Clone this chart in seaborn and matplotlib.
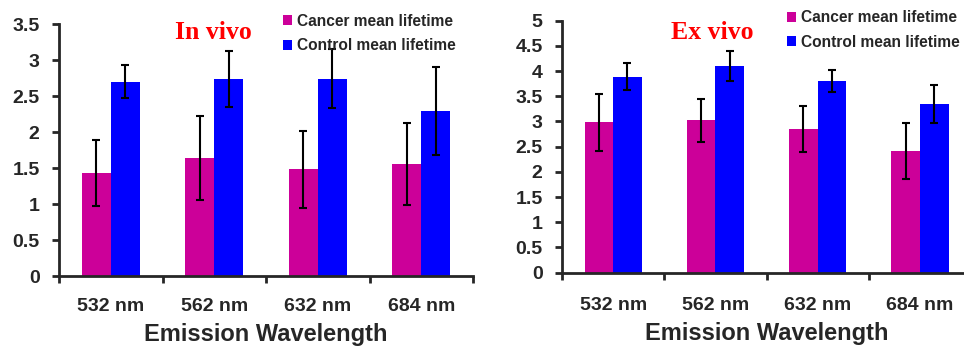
import pandas as pd
import matplotlib
matplotlib.use("Agg")
import matplotlib.pyplot as plt
import seaborn as sns

# values
wavelengths = ["532 nm", "562 nm", "632 nm", "684 nm"]
groups = ["Cancer mean lifetime", "Control mean lifetime"]

invivo_cancer = [1.43, 1.64, 1.48, 1.55]
invivo_cancer_err = [0.46, 0.58, 0.54, 0.57]
invivo_control = [2.70, 2.74, 2.74, 2.29]
invivo_control_err = [0.23, 0.39, 0.41, 0.61]

exvivo_cancer = [2.98, 3.02, 2.85, 2.41]
exvivo_cancer_err = [0.56, 0.43, 0.45, 0.55]
exvivo_control = [3.89, 4.10, 3.80, 3.34]
exvivo_control_err = [0.27, 0.30, 0.22, 0.38]

colors = ["#CC0099", "#0000FF"]

sns.set_style("white")
plt.rcParams["font.family"] = ["Liberation Sans", "DejaVu Sans"]


def make_df(cancer, control):
    rows = []
    for w, v in zip(wavelengths, cancer):
        rows.append({"Wavelength": w, "Group": groups[0], "Lifetime": v})
    for w, v in zip(wavelengths, control):
        rows.append({"Wavelength": w, "Group": groups[1], "Lifetime": v})
    return pd.DataFrame(rows)


def draw_panel(ax, cancer, cancer_err, control, control_err, ymax, title, title_x, title_y,
               leg_x, tick_pad, label_pad):
    df = make_df(cancer, control)
    sns.barplot(data=df, x="Wavelength", y="Lifetime", hue="Group",
                palette=colors, width=0.56, errorbar=None, ax=ax,
                linewidth=0, saturation=1)
    # error bars at the bar centres seaborn placed
    errs = cancer_err + control_err
    vals = cancer + control
    bars = [p for p in ax.patches if p.get_height() > 0][:len(vals)]
    xs = [p.get_x() + p.get_width() / 2 for p in bars]
    ax.errorbar(xs, vals, yerr=errs, fmt="none", ecolor="black",
                elinewidth=1.5, capsize=3, capthick=1.5)

    ax.set_xlim(-0.5, 3.5)
    ax.set_ylim(0, ymax)
    ax.yaxis.set_major_locator(plt.MultipleLocator(0.5))
    ax.yaxis.set_major_formatter(plt.FormatStrFormatter("%g"))
    ax.set_xticks([-0.5, 0.5, 1.5, 2.5, 3.5], minor=True)
    ax.tick_params(axis="x", which="major", length=0, pad=tick_pad, labelsize=14)
    ax.tick_params(axis="x", which="minor", length=5, width=2, direction="out", bottom=True)
    ax.tick_params(axis="y", length=5, width=2, direction="out", left=True,
                   labelsize=14, pad=9)
    for lab in ax.get_xticklabels() + ax.get_yticklabels():
        lab.set_fontweight("bold")
    sns.despine(ax=ax)
    ax.spines["left"].set_linewidth(2)
    ax.spines["bottom"].set_linewidth(2)
    ax.set_ylabel("")
    ax.set_xlabel("Emission Wavelength", fontsize=17, fontweight="bold", labelpad=label_pad)

    ax.text(title_x, title_y, title, transform=ax.transAxes, ha="center", va="center",
            fontsize=18.5, fontweight="bold", color="red", family="Liberation Serif")

    leg = ax.legend(loc="upper left", bbox_to_anchor=(leg_x, 1.065), frameon=False,
                    fontsize=11.2, handlelength=0.6, handleheight=0.6,
                    handletextpad=0.3, labelspacing=0.6, borderaxespad=0)
    for t in leg.get_texts():
        t.set_fontweight("semibold")


fig = plt.figure(figsize=(9.64, 3.5), dpi=100)
ax1 = fig.add_axes([0.0612, 0.2114, 0.4295, 0.72])
ax2 = fig.add_axes([0.583, 0.221, 0.4243, 0.72])

draw_panel(ax1, invivo_cancer, invivo_cancer_err, invivo_control, invivo_control_err,
           3.5, "In vivo", 0.372, 0.968, 0.525, 16, 5.5)
draw_panel(ax2, exvivo_cancer, exvivo_cancer_err, exvivo_control, exvivo_control_err,
           5, "Ex vivo", 0.367, 0.952, 0.535, 17.5, 5.5)

fig.savefig("out.png", dpi=100)
